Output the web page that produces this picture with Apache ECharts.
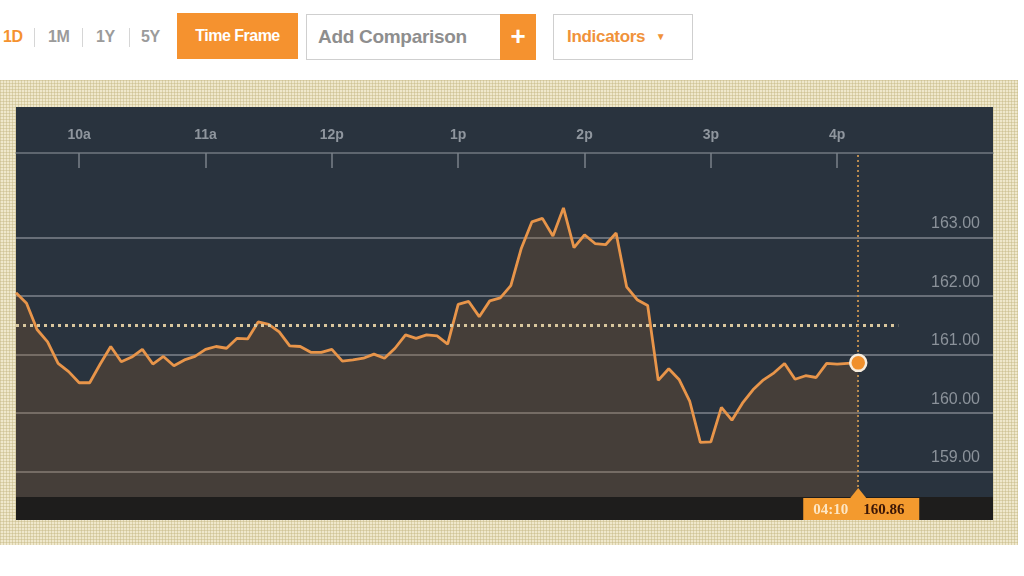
<!DOCTYPE html>
<html>
<head>
<meta charset="utf-8">
<script src="https://cdn.jsdelivr.net/npm/echarts@6/dist/echarts.min.js"></script>
<style>
  html, body { margin: 0; padding: 0; width: 1024px; height: 576px; background: #ffffff; overflow: hidden; font-family: "Liberation Sans", Arial, sans-serif; }
  .abs { position: absolute; box-sizing: border-box; }
  .tf { top: 26px; height: 22px; line-height: 22px; font-size: 16px; font-weight: bold; color: #9b9b9b; letter-spacing: -0.5px; }
  .sep { top: 28px; width: 1px; height: 19px; background: #d6d6d6; }
  #beige { left: 0; top: 80px; width: 1018px; height: 465px; background-color: #efe8cc;
    background-image: linear-gradient(90deg, rgba(196,182,130,0.45) 1px, transparent 1px), linear-gradient(rgba(196,182,130,0.45) 1px, transparent 1px);
    background-size: 3px 3px; }
  #panel { left: 16px; top: 107px; width: 977px; height: 413px; background: #29333e; }
  #strip { left: 16px; top: 497px; width: 977px; height: 23px; background: #1e1d1c; }
  #chart { left: 0; top: 0; width: 1024px; height: 576px; }
</style>
</head>
<body>
<div class="abs tf" style="left:3px;color:#f5922f;">1D</div>
<div class="abs sep" style="left:34px;"></div>
<div class="abs tf" style="left:48px;">1M</div>
<div class="abs sep" style="left:82px;"></div>
<div class="abs tf" style="left:96px;">1Y</div>
<div class="abs sep" style="left:129px;"></div>
<div class="abs tf" style="left:141px;">5Y</div>
<div class="abs" style="left:177px;top:13px;width:121px;height:46px;background:#f5922f;color:#fff;font-weight:bold;font-size:16px;line-height:46px;text-align:center;letter-spacing:-0.5px;">Time Frame</div>
<div class="abs" style="left:306px;top:14px;width:196px;height:46px;border:1px solid #cfcfcf;color:#8e8e8e;font-weight:bold;font-size:19px;line-height:44px;padding-left:11px;letter-spacing:-0.3px;">Add Comparison</div>
<div class="abs" style="left:500px;top:14px;width:36px;height:46px;background:#f5922f;color:#fff;font-weight:bold;font-size:26px;line-height:44px;text-align:center;">+</div>
<div class="abs" style="left:553px;top:14px;width:140px;height:46px;border:1px solid #cfcfcf;color:#f0923a;font-weight:bold;font-size:17px;line-height:44px;padding-left:13px;letter-spacing:-0.3px;">Indicators <span style="font-size:10px;position:relative;top:-2px;margin-left:6px;">&#9660;</span></div>
<div id="beige" class="abs"></div>
<div id="panel" class="abs"></div>
<div id="strip" class="abs"></div>
<div id="chart" class="abs"></div>
<script>
// ---- data ----
const times = [
  '09:30','09:35','09:40','09:45','09:50','09:55','10:00','10:05','10:10','10:15',
  '10:20','10:25','10:30','10:35','10:40','10:45','10:50','10:55','11:00','11:05',
  '11:10','11:15','11:20','11:25','11:30','11:35','11:40','11:45','11:50','11:55',
  '12:00','12:05','12:10','12:15','12:20','12:25','12:30','12:35','12:40','12:45',
  '12:50','12:55','13:00','13:05','13:10','13:15','13:20','13:25','13:30','13:35',
  '13:40','13:45','13:50','13:55','14:00','14:05','14:10','14:15','14:20','14:25',
  '14:30','14:35','14:40','14:45','14:50','14:55','15:00','15:05','15:10','15:15',
  '15:20','15:25','15:30','15:35','15:40','15:45','15:50','15:55','16:00','16:05',
  '16:10'
];
const prices = [
  162.06,161.88,161.43,161.22,160.85,160.71,160.52,160.52,160.84,161.14,
  160.88,160.96,161.09,160.84,160.97,160.81,160.91,160.97,161.09,161.14,
  161.11,161.28,161.27,161.56,161.52,161.39,161.15,161.14,161.04,161.04,
  161.09,160.89,160.91,160.94,161.01,160.94,161.11,161.34,161.28,161.34,
  161.32,161.18,161.86,161.91,161.65,161.92,161.97,162.18,162.82,163.27,
  163.33,163.03,163.51,162.83,163.05,162.90,162.88,163.08,162.16,161.94,
  161.84,160.56,160.76,160.57,160.20,159.50,159.51,160.10,159.88,160.17,
  160.40,160.57,160.69,160.85,160.58,160.64,160.61,160.85,160.84,160.85,
  160.86
];
const prevClose = 161.5;
const prevCloseEnd = '16:29';
const xTickValues = ['10:00','11:00','12:00','13:00','14:00','15:00','16:00'];
const xTickLabels = ['10a','11a','12p','1p','2p','3p','4p'];
const yTickValues = [159, 160, 161, 162, 163];
const xRange = ['09:30', '17:14'];
const yRange = [158.567, 164.448];

// ---- helpers ----
const toMin = s => { const p = s.split(':'); return (+p[0]) * 60 + (+p[1]); };
const to12 = s => { const p = s.split(':'); let h = (+p[0]) % 12; if (h === 0) h = 12; return String(h).padStart(2, '0') + ':' + p[1]; };
const xTickMins = xTickValues.map(toMin);
const seriesData = times.map((t, i) => [toMin(t), prices[i]]);
const lastX = toMin(times[times.length - 1]);
const lastV = prices[prices.length - 1];

const chart = echarts.init(document.getElementById('chart'), null, { renderer: 'canvas' });
chart.setOption({
  backgroundColor: 'transparent',
  animation: false,
  grid: { left: 16, right: 31, top: 153, bottom: 79, containLabel: false },
  xAxis: {
    type: 'value', position: 'top',
    min: toMin(xRange[0]), max: toMin(xRange[1]),
    axisLine: { show: true, lineStyle: { color: '#707880', width: 1.5 } },
    axisTick: { show: true, inside: true, length: 15, customValues: xTickMins, lineStyle: { color: '#7a8189', width: 1.5 } },
    axisLabel: {
      customValues: xTickMins, margin: 11, color: '#8f969e', fontSize: 14, fontWeight: 'bold',
      fontFamily: 'Liberation Sans, Arial, sans-serif',
      formatter: v => { const i = xTickMins.indexOf(v); return i >= 0 ? xTickLabels[i] : ''; }
    },
    splitLine: { show: false }
  },
  yAxis: {
    type: 'value', position: 'right',
    min: yRange[0], max: yRange[1],
    axisLine: { show: false },
    axisTick: { show: false, customValues: yTickValues },
    axisLabel: {
      inside: true, customValues: yTickValues, margin: 13, color: '#8b929a', fontSize: 16,
      fontFamily: 'Liberation Sans, Arial, sans-serif',
      verticalAlign: 'bottom', padding: [0, 0, 6, 0],
      formatter: v => v.toFixed(2)
    },
    splitLine: { show: true, lineStyle: { color: '#7e858d', width: 1.5 } }
  },
  series: [{
    type: 'line',
    data: seriesData,
    symbol: 'none',
    lineStyle: { color: '#e8954a', width: 2.8 },
    areaStyle: { color: 'rgba(160,100,40,0.34)', origin: 'start' },
    z: 3,
    markLine: {
      silent: true, symbol: 'none', label: { show: false }, animation: false,
      data: [
        [
          { coord: [toMin(times[0]), prevClose], lineStyle: { color: '#d9c79e', type: [3, 4], width: 3 } },
          { coord: [toMin(prevCloseEnd), prevClose] }
        ],
        { xAxis: lastX, lineStyle: { color: '#b88a50', type: [2, 3], width: 2 } }
      ]
    },
    markPoint: {
      silent: true, symbol: 'circle', symbolSize: 16, label: { show: false },
      itemStyle: { color: '#f0902c', borderColor: '#f7ecdc', borderWidth: 2.5 },
      data: [{ coord: [lastX, lastV] }]
    }
  }]
});

const pt = chart.convertToPixel({ gridIndex: 0 }, [lastX, lastV]);
const px = pt[0];
chart.setOption({
  graphic: [
    { type: 'polygon', z: 100, shape: { points: [[px - 8, 498], [px, 488], [px + 8, 498]] }, style: { fill: '#f39a2e' } },
    { type: 'rect', z: 100, shape: { x: px - 55, y: 498, width: 116, height: 22 }, style: { fill: '#f39a2e' } },
    { type: 'text', z: 101, x: px - 45, y: 510, style: { text: to12(times[times.length - 1]), fill: '#fde6c4', font: 'bold 15px "Liberation Serif", Georgia, serif', verticalAlign: 'middle' } },
    { type: 'text', z: 101, x: px + 5, y: 510, style: { text: lastV.toFixed(2), fill: '#3b1606', font: 'bold 15px "Liberation Serif", Georgia, serif', verticalAlign: 'middle' } }
  ]
});
</script>
</body>
</html>
